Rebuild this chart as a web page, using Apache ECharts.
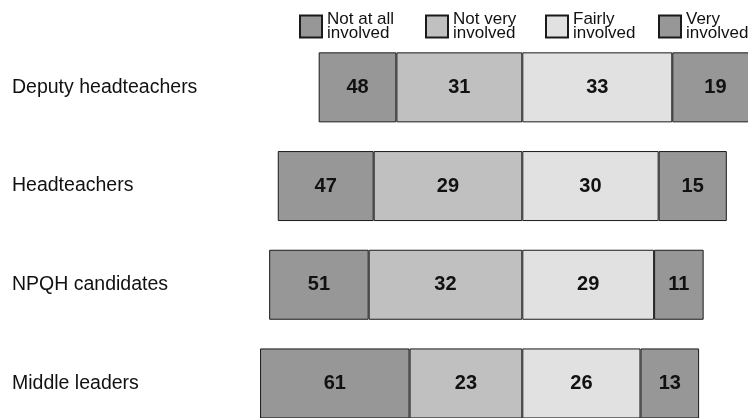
<!DOCTYPE html>
<html>
<head>
<meta charset="utf-8">
<script src="https://cdn.jsdelivr.net/npm/echarts@6/dist/echarts.min.js"></script>
<style>html,body{margin:0;padding:0;background:#fff}#c{width:748px;height:418px}</style>
</head>
<body>
<div id="c"></div>
<script>
var categories = ['Deputy headteachers', 'Headteachers', 'NPQH candidates', 'Middle leaders'];
var seriesNames = ['Not at all\ninvolved', 'Not very\ninvolved', 'Fairly\ninvolved', 'Very\ninvolved'];
// segment lengths as drawn (chart units)
var notAtAllWidth = [17.1, 21.1, 21.9, 32.9];
var notVeryWidth = [27.7, 32.7, 33.8, 24.8];
var fairlyWidth = [33.0, 30.0, 29.0, 26.0];
var veryWidth = [19.0, 15.0, 10.9, 12.9];
// numbers printed in the segments
var notAtAllLabel = [48, 47, 51, 61];
var notVeryLabel = [31, 29, 32, 23];
var fairlyLabel = [33, 30, 29, 26];
var veryLabel = [19, 15, 11, 13];

var colors = ['#979797', '#c0c0c0', '#e1e1e1', '#979797'];
var font = 'Liberation Sans, Arial, sans-serif';

function mk(name, widths, labels, color, sign) {
  return {
    name: name,
    type: 'bar',
    stack: 'total',
    barWidth: 70,
    clip: false,
    data: widths.map(function (w) { return sign * w; }),
    itemStyle: { color: color, borderColor: '#1a1a1a', borderWidth: 1 },
    label: {
      show: true, position: 'inside',
      fontFamily: font, fontSize: 20, fontWeight: 'bold', color: '#111',
      formatter: function (p) { return String(labels[p.dataIndex]); }
    },
    emphasis: { disabled: true }
  };
}

var legendLefts = [299, 425, 545, 658];
var legends = seriesNames.map(function (n, i) {
  return {
    data: [n], left: legendLefts[i], top: 11, padding: 0,
    itemWidth: 22, itemHeight: 22, itemGap: 0,
    icon: 'rect', selectedMode: false,
    textStyle: { fontFamily: font, fontSize: 17, lineHeight: 14, color: '#111' }
  };
});

var chart = echarts.init(document.getElementById('c'), null, { renderer: 'canvas' });
chart.setOption({
  animation: false,
  backgroundColor: '#fff',
  legend: legends,
  grid: { left: 249.6, top: 38, width: 545.4, height: 394.8, containLabel: false, outerBoundsMode: 'none' },
  xAxis: { type: 'value', min: -60, max: 60, show: false },
  yAxis: {
    type: 'category', data: categories, inverse: true,
    axisLine: { show: false }, axisTick: { show: false }, splitLine: { show: false },
    axisLabel: { align: 'left', margin: 237.6, fontFamily: font, fontSize: 19.5, color: '#111' }
  },
  series: [
    mk(seriesNames[1], notVeryWidth, notVeryLabel, colors[1], -1),
    mk(seriesNames[0], notAtAllWidth, notAtAllLabel, colors[0], -1),
    mk(seriesNames[2], fairlyWidth, fairlyLabel, colors[2], 1),
    mk(seriesNames[3], veryWidth, veryLabel, colors[3], 1)
  ]
});
</script>
</body>
</html>
